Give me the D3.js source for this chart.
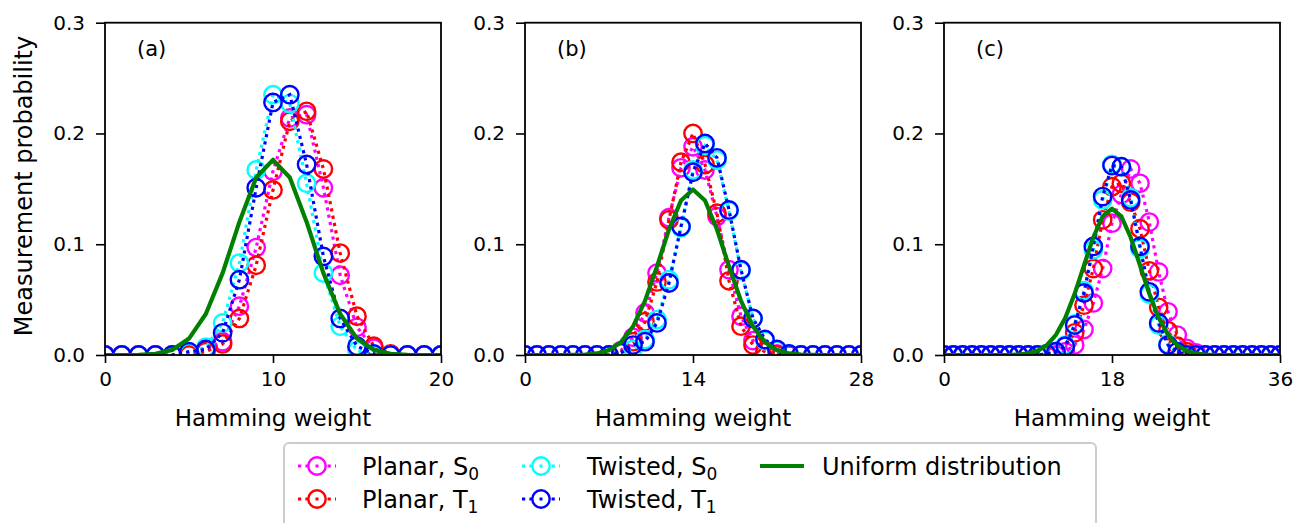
<!DOCTYPE html>
<html>
<head>
<meta charset="utf-8">
<script src="https://cdn.jsdelivr.net/npm/d3@7"></script>
<style>
  body { margin: 0; background: #fff; }
  svg { font-family: "DejaVu Sans", sans-serif; }
</style>
</head>
<body>
<div id="chart"></div>
<script>
// ---- data ----
var panelNames = ["(a)", "(b)", "(c)"];
var panelSizes = [20, 28, 36];
var xTicksA = [0, 10, 20];
var xTicksB = [0, 14, 28];
var xTicksC = [0, 18, 36];
var yTicks = [0, 0.1, 0.2, 0.3];

var seriesLabels = ["Planar, S", "Planar, T", "Twisted, S", "Twisted, T", "Uniform distribution"];
var seriesSubs = ["0", "1", "0", "1", ""];
var seriesColors = ["#ff00ff", "#ff0000", "#00ffff", "#0000ff", "#008000"];

// panel (a): Hamming weight 0..20
var planarS0_a  = [0,0,0,0,0,0.002,0.005,0.012,0.044,0.097,0.166,0.214,0.217,0.151,0.072,0.025,0.006,0,0,0,0];
var planarT1_a  = [0,0,0,0,0,0,0.003,0.010,0.033,0.081,0.149,0.211,0.220,0.168,0.092,0.035,0.008,0.001,0,0,0];
var twistedS0_a = [0,0,0,0,0,0.002,0.007,0.029,0.083,0.167,0.235,0.227,0.155,0.074,0.026,0.004,0,0,0,0,0];
var twistedT1_a = [0,0,0,0,0,0.003,0.005,0.020,0.068,0.151,0.228,0.235,0.172,0.089,0.033,0.008,0.001,0,0,0,0];
var uniform_a   = [0,0,0.0002,0.0011,0.0046,0.0148,0.0370,0.0739,0.1201,0.1602,0.1762,0.1602,0.1201,0.0739,0.0370,0.0148,0.0046,0.0011,0.0002,0,0];

// panel (b): Hamming weight 0..28
var planarS0_b  = [0,0,0,0,0,0,0,0,0.004,0.016,0.038,0.074,0.124,0.169,0.188,0.167,0.125,0.077,0.035,0.013,0.004,0.001,0,0,0,0,0,0,0];
var planarT1_b  = [0,0,0,0,0,0,0,0,0.003,0.012,0.030,0.066,0.122,0.174,0.200,0.172,0.128,0.067,0.026,0.009,0.003,0,0,0,0,0,0,0,0];
var twistedS0_b = [0,0,0,0,0,0,0,0,0.002,0.005,0.014,0.032,0.068,0.115,0.167,0.189,0.176,0.130,0.076,0.033,0.013,0.004,0.001,0,0,0,0,0,0];
var twistedT1_b = [0,0,0,0,0,0,0,0,0.002,0.009,0.012,0.029,0.065,0.116,0.165,0.191,0.178,0.131,0.077,0.033,0.014,0.005,0.001,0,0,0,0,0,0];
var uniform_b   = [0,0,0,0,0.0001,0.0004,0.0014,0.0044,0.0116,0.0257,0.0489,0.0800,0.1133,0.1395,0.1494,0.1395,0.1133,0.0800,0.0489,0.0257,0.0116,0.0044,0.0014,0.0004,0.0001,0,0,0,0];

// panel (c): Hamming weight 0..36
var planarS0_c  = [0,0,0,0,0,0,0,0,0,0,0,0,0,0.003,0.009,0.023,0.047,0.078,0.119,0.145,0.168,0.155,0.120,0.075,0.039,0.018,0.006,0.002,0,0,0,0,0,0,0,0,0];
var planarT1_c  = [0,0,0,0,0,0,0,0,0,0,0,0,0.003,0.008,0.020,0.045,0.078,0.122,0.152,0.155,0.138,0.114,0.076,0.043,0.022,0.008,0.003,0,0,0,0,0,0,0,0,0,0];
var twistedS0_c = [0,0,0,0,0,0,0,0,0,0,0,0.001,0.003,0.009,0.028,0.058,0.095,0.140,0.172,0.170,0.142,0.096,0.055,0.027,0.010,0.003,0,0,0,0,0,0,0,0,0,0,0];
var twistedT1_c = [0,0,0,0,0,0,0,0,0,0,0,0.001,0.003,0.008,0.027,0.056,0.098,0.143,0.171,0.170,0.140,0.098,0.057,0.029,0.009,0.003,0,0,0,0,0,0,0,0,0,0,0];
var uniform_c   = [0,0,0,0,0,0,0,0.0001,0.0004,0.0014,0.0037,0.0087,0.0182,0.0336,0.0552,0.0810,0.1063,0.1251,0.1321,0.1251,0.1063,0.0810,0.0552,0.0336,0.0182,0.0087,0.0037,0.0014,0.0004,0.0001,0,0,0,0,0,0,0];

var panels = [
  { name: panelNames[0], n: panelSizes[0], ticks: xTicksA, series: [planarS0_a, planarT1_a, twistedS0_a, twistedT1_a, uniform_a] },
  { name: panelNames[1], n: panelSizes[1], ticks: xTicksB, series: [planarS0_b, planarT1_b, twistedS0_b, twistedT1_b, uniform_b] },
  { name: panelNames[2], n: panelSizes[2], ticks: xTicksC, series: [planarS0_c, planarT1_c, twistedS0_c, twistedT1_c, uniform_c] }
];

// ---- layout ----
var W = 1293, H = 523;
var plotLeft = [105, 525, 944], plotW = 336;
var plotTop = 22.7, plotBottom = 355;
var markerR = 8.7;

var svg = d3.select("#chart").append("svg")
    .attr("width", W)
    .attr("height", H);

panels.forEach(function(p, i) {
  var x = d3.scaleLinear().domain([0, p.n]).range([plotLeft[i], plotLeft[i] + plotW]);
  var y = d3.scaleLinear().domain([0, 0.3]).range([plotBottom, plotTop]);

  var clipId = "clip" + i;
  svg.append("clipPath").attr("id", clipId)
    .append("rect")
      .attr("x", plotLeft[i]).attr("y", plotTop)
      .attr("width", plotW).attr("height", plotBottom - plotTop);

  var g = svg.append("g").attr("clip-path", "url(#" + clipId + ")");

  var line = d3.line()
      .x(function(d) { return x(d[0]); })
      .y(function(d) { return y(d[1]); });

  p.series.forEach(function(vals, s) {
    var pts = vals.map(function(v, k) { return [k, v]; });
    if (s < 4) {
      g.append("path")
        .attr("d", line(pts))
        .attr("fill", "none")
        .attr("stroke", seriesColors[s])
        .attr("stroke-width", 3.2)
        .attr("stroke-dasharray", "3.2,4.2");
      g.append("g").selectAll("circle")
        .data(pts)
        .enter().append("circle")
          .attr("cx", function(d) { return x(d[0]); })
          .attr("cy", function(d) { return y(d[1]); })
          .attr("r", markerR)
          .attr("fill", "none")
          .attr("stroke", seriesColors[s])
          .attr("stroke-width", 2.4);
    } else {
      g.append("path")
        .attr("d", line(pts))
        .attr("fill", "none")
        .attr("stroke", seriesColors[s])
        .attr("stroke-width", 4.2)
        .attr("stroke-linejoin", "round");
    }
  });

  // axes
  var xAxis = d3.axisBottom(x).tickValues(p.ticks).tickSize(8).tickPadding(9).tickSizeOuter(0);
  var gx = svg.append("g").attr("transform", "translate(0," + plotBottom + ")").call(xAxis);
  gx.select(".domain").remove();
  gx.selectAll("line").attr("stroke", "#000").attr("stroke-width", 1.6);
  gx.selectAll("text").attr("font-size", 20).attr("fill", "#000").attr("font-family", "DejaVu Sans");

  var yAxis = d3.axisLeft(y).tickValues(yTicks).tickFormat(d3.format(".1f")).tickSize(9).tickPadding(11).tickSizeOuter(0);
  var gy = svg.append("g").attr("transform", "translate(" + plotLeft[i] + ",0)").call(yAxis);
  gy.select(".domain").remove();
  gy.selectAll("line").attr("stroke", "#000").attr("stroke-width", 1.6);
  gy.selectAll("text").attr("font-size", 20).attr("fill", "#000").attr("font-family", "DejaVu Sans");

  svg.append("rect")
    .attr("x", plotLeft[i]).attr("y", plotTop)
    .attr("width", plotW).attr("height", plotBottom - plotTop)
    .attr("fill", "none").attr("stroke", "#000").attr("stroke-width", 1.8);

  svg.append("text")
    .attr("x", plotLeft[i] + 32).attr("y", 56)
    .attr("font-size", 21)
    .text(p.name);

  svg.append("text")
    .attr("x", plotLeft[i] + plotW / 2).attr("y", 426)
    .attr("text-anchor", "middle")
    .attr("font-size", 23)
    .text("Hamming weight");
});

svg.append("text")
  .attr("transform", "translate(32,186) rotate(-90)")
  .attr("text-anchor", "middle")
  .attr("font-size", 24)
  .text("Measurement probability");

// ---- legend ----
var legend = svg.append("g");
legend.append("rect")
  .attr("x", 284).attr("y", 443)
  .attr("width", 812).attr("height", 100)
  .attr("rx", 5)
  .attr("fill", "#fff")
  .attr("stroke", "#cccccc")
  .attr("stroke-width", 2);

var colX = [298, 522, 760], textX = [362, 587, 822], rowY = [466, 499];
seriesLabels.forEach(function(lab, s) {
  var c = Math.floor(s / 2), r = s % 2;
  var hx = colX[c], hy = rowY[r];
  if (s < 4) {
    legend.append("line")
      .attr("x1", hx).attr("x2", hx + 38).attr("y1", hy).attr("y2", hy)
      .attr("stroke", seriesColors[s]).attr("stroke-width", 3.2)
      .attr("stroke-dasharray", "3.2,4.2");
    legend.append("circle")
      .attr("cx", hx + 19).attr("cy", hy).attr("r", markerR)
      .attr("fill", "#fff").attr("stroke", seriesColors[s]).attr("stroke-width", 2.4);
    legend.append("rect")
      .attr("x", hx + 17.5).attr("y", hy - 1.5).attr("width", 3).attr("height", 3)
      .attr("fill", seriesColors[s]);
  } else {
    legend.append("line")
      .attr("x1", hx).attr("x2", hx + 44).attr("y1", hy).attr("y2", hy)
      .attr("stroke", seriesColors[s]).attr("stroke-width", 4.2);
  }
  var t = legend.append("text")
    .attr("x", textX[c]).attr("y", hy + 9)
    .attr("font-size", 24)
    .text(lab);
  if (seriesSubs[s]) {
    t.append("tspan").attr("dy", 5).attr("font-size", 17).text(seriesSubs[s]);
  }
});
</script>
</body>
</html>
